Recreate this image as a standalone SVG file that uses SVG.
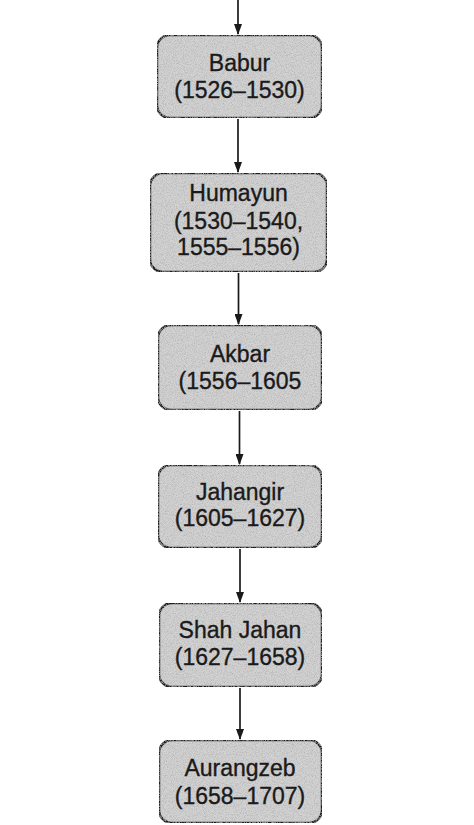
<svg xmlns="http://www.w3.org/2000/svg" width="474" height="825" viewBox="0 0 474 825">
<style>
.box{fill:#d2d2d2;stroke:#1a1a1a;stroke-width:2.5}
.t{font-family:"Liberation Sans",Arial,sans-serif;font-size:23px;fill:#1a1a1a;stroke:#1a1a1a;stroke-width:0.35;text-anchor:middle}
.c{stroke:#1a1a1a;stroke-width:1.7;fill:none;marker-end:url(#ah)}
</style>
<defs>
<marker id="ah" markerWidth="11" markerHeight="8" refX="10" refY="4" orient="auto" markerUnits="userSpaceOnUse" viewBox="0 0 11 8">
<path d="M0,0 L11,4 L0,8 Z" fill="#1a1a1a"/>
</marker>
<filter id="grain" x="0" y="0" width="100%" height="100%">
<feTurbulence type="fractalNoise" baseFrequency="1.1" numOctaves="2" seed="3" result="n"/>
<feColorMatrix in="n" type="matrix" values="0 0 0 0 0.45  0 0 0 0 0.45  0 0 0 0 0.45  0 0 0 2.2 -0.9" result="g"/>
<feComposite in="g" in2="SourceGraphic" operator="in" result="gc"/>
<feMerge><feMergeNode in="SourceGraphic"/><feMergeNode in="gc"/></feMerge>
</filter>
</defs>
<rect width="474" height="825" fill="#ffffff"/>
<g id="connectors">
<line class="c" x1="238" y1="0" x2="238" y2="34"/>
<line class="c" x1="238" y1="119" x2="238" y2="172"/>
<line class="c" x1="238.5" y1="273" x2="238.5" y2="324"/>
<line class="c" x1="239.5" y1="411" x2="239.5" y2="464"/>
<line class="c" x1="240" y1="549" x2="240" y2="602"/>
<line class="c" x1="240" y1="688" x2="240" y2="739"/>
</g>
<g id="babur">
<rect class="box" x="157" y="35" width="165" height="83" rx="13" filter="url(#grain)"/>
<text class="t" x="239.5" y="71">Babur</text>
<text class="t" x="239.5" y="98">(1526–1530)</text>
</g>
<g id="humayun">
<rect class="box" x="150" y="173" width="177" height="99" rx="13" filter="url(#grain)"/>
<text class="t" x="238.5" y="201">Humayun</text>
<text class="t" x="238.5" y="229">(1530–1540,</text>
<text class="t" x="238.5" y="255">1555–1556)</text>
</g>
<g id="akbar">
<rect class="box" x="158" y="325" width="164" height="85" rx="13" filter="url(#grain)"/>
<text class="t" x="240" y="362">Akbar</text>
<text class="t" x="240" y="389">(1556–1605</text>
</g>
<g id="jahangir">
<rect class="box" x="158" y="465" width="164" height="83" rx="13" filter="url(#grain)"/>
<text class="t" x="240" y="500">Jahangir</text>
<text class="t" x="240" y="526">(1605–1627)</text>
</g>
<g id="shahjahan">
<rect class="box" x="159" y="603" width="163" height="84" rx="13" filter="url(#grain)"/>
<text class="t" x="240" y="638">Shah Jahan</text>
<text class="t" x="240" y="665">(1627–1658)</text>
</g>
<g id="aurangzeb">
<rect class="box" x="159" y="740" width="163" height="83" rx="13" filter="url(#grain)"/>
<text class="t" x="240" y="776">Aurangzeb</text>
<text class="t" x="240" y="804">(1658–1707)</text>
</g>
</svg>
